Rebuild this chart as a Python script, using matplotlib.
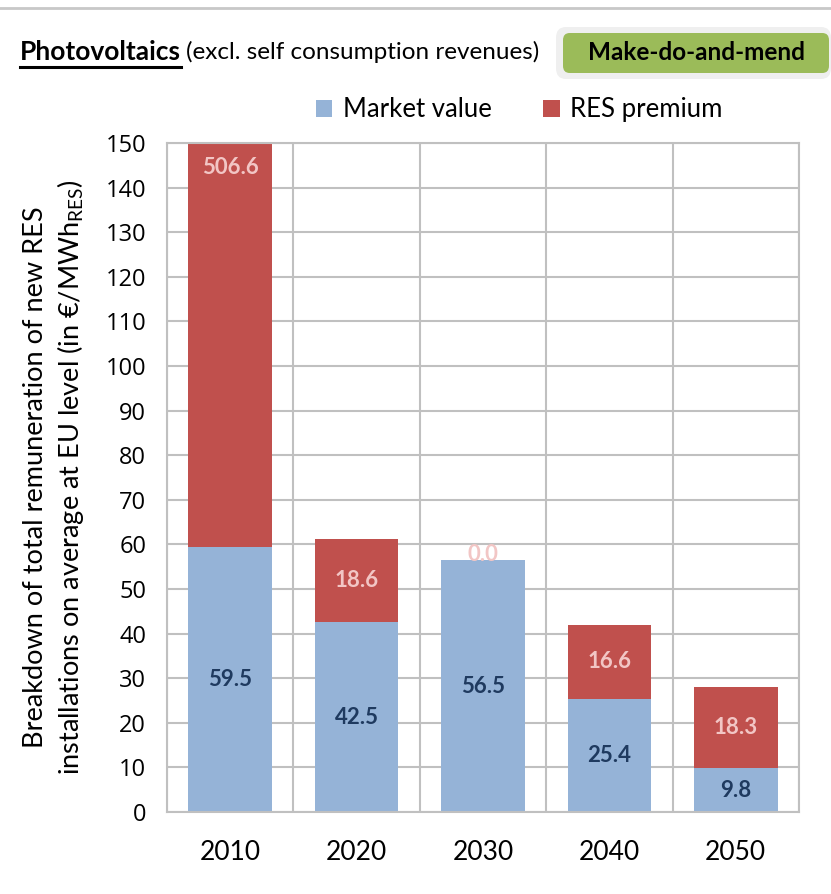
import matplotlib
matplotlib.use("Agg")
import matplotlib.pyplot as plt
from matplotlib.patches import FancyBboxPatch
from matplotlib.lines import Line2D
import numpy as np

plt.rcParams['font.family'] = ['Lato', 'DejaVu Sans']
plt.rcParams['mathtext.fontset'] = 'custom'
plt.rcParams['mathtext.rm'] = 'Lato'

years = ['2010', '2020', '2030', '2040', '2050']
market_value = [59.5, 42.5, 56.5, 25.4, 9.8]
res_premium = [506.6, 18.6, 0.0, 16.6, 18.3]

BLUE = '#95B3D7'
RED = '#C0504D'
DARK_LABEL = '#1F3A5F'
PINK_LABEL = '#F2C6C5'
GRID = '#C0C0C0'

W, H = 831, 894
fig = plt.figure(figsize=(W / 100, H / 100), dpi=100)

ax = fig.add_axes([167 / W, 1 - 812 / H, (799 - 167) / W, (812 - 143) / H])
x = np.arange(len(years))
width = 0.66
ymax = 150

ax.bar(x, market_value, width, color=BLUE, zorder=2, label='Market value')
ax.bar(x, res_premium, width, bottom=market_value, color=RED, zorder=2, label='RES premium')

ax.set_xlim(-0.5, len(years) - 0.5)
ax.set_ylim(0, ymax)
ax.set_yticks(range(0, 151, 10))
ax.set_xticks(x)
ax.set_xticklabels(years, fontsize=19)
for lab in ax.get_yticklabels():
    lab.set_fontfamily('Open Sans')
    lab.set_fontsize(17)
ax.tick_params(axis='both', length=0)
ax.tick_params(axis='x', pad=20)
ax.tick_params(axis='y', pad=15)

# category boundaries as vertical grid, values as horizontal grid
ax.set_xticks(np.arange(-0.5, len(years)), minor=True)
ax.grid(axis='y', color=GRID, lw=1.5, zorder=0)
ax.grid(axis='x', which='minor', color=GRID, lw=1.5, zorder=0)
ax.tick_params(axis='x', which='minor', length=0)
for s in ax.spines.values():
    s.set_color(GRID)
    s.set_linewidth(1.5)

# data labels
for i, (mv, rp) in enumerate(zip(market_value, res_premium)):
    ax.text(i, mv / 2, f'{mv:.1f}', ha='center', va='center', fontsize=16,
            fontweight='bold', color=DARK_LABEL, zorder=3)
    top = mv + rp
    if top > ymax:
        ypos = ymax - 5.5
    elif rp == 0:
        ypos = top + 1.2
    else:
        ypos = mv + rp / 2
    ax.text(i, ypos, f'{rp:.1f}', ha='center', va='center', fontsize=16,
            fontweight='bold', color=PINK_LABEL, zorder=3)

ax.set_ylabel('Breakdown of total remuneration of new RES\n'
              'installations on average at EU level (in €/MWh$_{\\mathrm{RES}}$)',
              fontsize=19.5, linespacing=1.3, labelpad=14)

ax.legend(loc='lower center', bbox_to_anchor=(0.557, 1.0), ncol=2, frameon=False,
          fontsize=18.5, handlelength=0.65, handleheight=0.65, columnspacing=2.0,
          handletextpad=0.4, borderaxespad=0.4)

# top rule
fig.add_artist(Line2D([0, 1], [1 - 8 / H, 1 - 8 / H], color='#C8C8C8', lw=2))

# title with underlined first word
t1 = fig.text(20 / W, 1 - 52 / H, 'Photovoltaics', fontsize=19, fontweight='bold',
              va='center', ha='left')
fig.canvas.draw()
bb = t1.get_window_extent()
fig.add_artist(Line2D([bb.x0 / W, bb.x1 / W], [1 - 67 / H, 1 - 67 / H],
                      color='black', lw=2.2))
fig.text(bb.x1 / W + 5 / W, 1 - 52 / H, '(excl. self consumption revenues)',
         fontsize=17.5, va='center', ha='left')

# scenario badge
fig.add_artist(FancyBboxPatch((556 / W, 1 - 79 / H), 275 / W, 52 / H,
                              boxstyle='round,pad=0,rounding_size=0.012',
                              transform=fig.transFigure, fc='#EFEFEF', ec='none'))
fig.add_artist(FancyBboxPatch((563 / W, 1 - 73 / H), 266 / W, 40 / H,
                              boxstyle='round,pad=0,rounding_size=0.008',
                              transform=fig.transFigure, fc='#9BBB59', ec='none'))
fig.text(696 / W, 1 - 53 / H, 'Make-do-and-mend', fontsize=17.5, fontweight='bold',
         ha='center', va='center')

fig.savefig('out.png', dpi=100)
